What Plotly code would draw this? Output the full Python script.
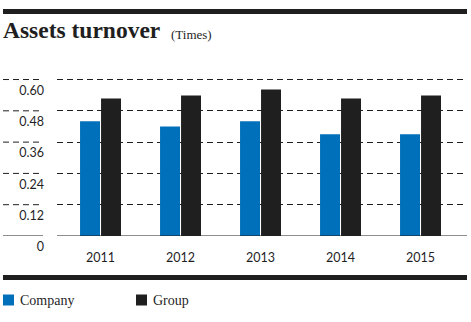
import plotly.graph_objects as go

years = ["2011", "2012", "2013", "2014", "2015"]
company = [0.44, 0.42, 0.44, 0.39, 0.39]
group = [0.527, 0.539, 0.562, 0.527, 0.539]
tick_vals = [0, 0.12, 0.24, 0.36, 0.48, 0.60]
tick_text = ["0", "0.12", "0.24", "0.36", "0.48", "0.60"]
series_names = ["Company", "Group"]
series_colors = ["#0070BA", "#1F1F1F"]
title_text = "Assets turnover"
unit_text = "(Times)"

W, H = 471, 322
L, R, T, B = 57, 4, 72, 86
pw = W - L - R
ph = H - T - B


def px_x(p):
    return (p - L) / pw


def px_y(p):
    return (H - B - p) / ph


fig = go.Figure()
for name, vals, col in zip(series_names, [company, group], series_colors):
    fig.add_trace(go.Bar(x=years, y=vals, name=name, marker=dict(color=col, line=dict(width=0)),
                         showlegend=False))

shapes = []
# left-side gridline stubs under the tick labels
for v in tick_vals:
    shapes.append(dict(type="line", xref="paper", yref="y", x0=px_x(3), x1=px_x(43), y0=v, y1=v,
                       line=dict(color="#1F1F1F", width=1.2 if v == 0 else 1,
                                 dash="solid" if v == 0 else "6px,4px")))
# baseline
shapes.append(dict(type="line", xref="paper", yref="y", x0=0, x1=1, y0=0, y1=0,
                   line=dict(color="#1F1F1F", width=1.2)))
# thick rules at top and bottom
for y0, y1 in [(9, 14), (275, 280)]:
    shapes.append(dict(type="rect", xref="paper", yref="paper", x0=px_x(3), x1=px_x(467),
                       y0=px_y(y1), y1=px_y(y0), fillcolor="#1F1F1F", line=dict(width=0)))

annotations = [
    dict(text=f"<b>{title_text}</b>", xref="paper", yref="paper", x=px_x(1), y=px_y(45),
         xanchor="left", yanchor="bottom", showarrow=False,
         font=dict(family="Liberation Serif", size=23.5, color="#1F1F1F")),
    dict(text=unit_text, xref="paper", yref="paper", x=px_x(169), y=px_y(44),
         xanchor="left", yanchor="bottom", showarrow=False,
         font=dict(family="Liberation Serif", size=13, color="#1F1F1F")),
]
# legend (manual)
legend_x = [3, 136]
for name, col, lx in zip(series_names, series_colors, legend_x):
    shapes.append(dict(type="rect", xref="paper", yref="paper", x0=px_x(lx), x1=px_x(lx + 11),
                       y0=px_y(305.5), y1=px_y(294.5), fillcolor=col, line=dict(width=0)))
    annotations.append(dict(text=name, xref="paper", yref="paper", x=px_x(lx + 15), y=px_y(300),
                            xanchor="left", yanchor="middle", showarrow=False,
                            font=dict(family="Liberation Serif", size=14, color="#1F1F1F")))

fig.update_layout(
    width=W, height=H,
    margin=dict(l=L, r=R, t=T, b=B, pad=0),
    paper_bgcolor="white", plot_bgcolor="white",
    barmode="group", bargap=0.475, bargroupgap=0.05,
    shapes=shapes, annotations=annotations,
    showlegend=False,
    font=dict(family="Lato", color="#1F1F1F", size=12),
)
fig.update_xaxes(range=[-0.544, 4.581], showgrid=False, zeroline=False, showline=False,
                 ticks="", tickfont=dict(family="Lato", size=12.5, color="#1F1F1F"),
                 ticklabelstandoff=12)
fig.update_yaxes(range=[0, ph / 260.8], tickvals=tick_vals, ticktext=tick_text,
                 showgrid=True, gridcolor="#1F1F1F", gridwidth=1, griddash="6px,4px",
                 zeroline=False, showline=False, ticks="",
                 tickfont=dict(family="Lato", size=12.5, color="#1F1F1F"),
                 ticklabelstandoff=12, ticklabelshift=11)

fig.write_html("out.html")
